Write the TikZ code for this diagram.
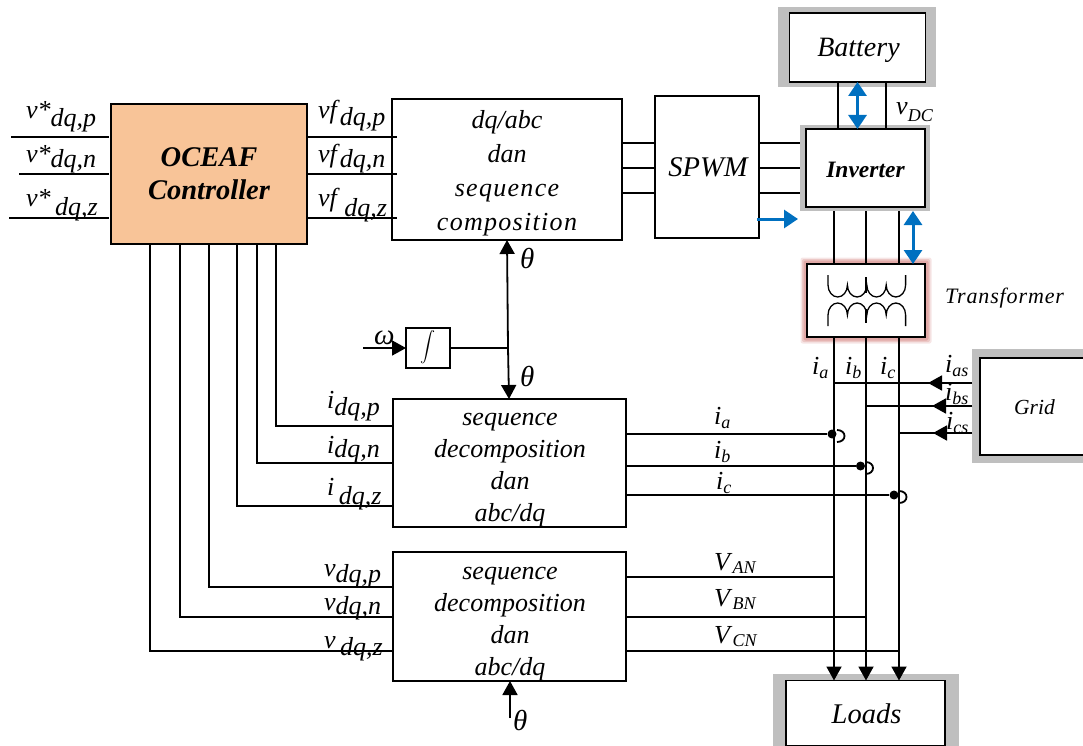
\documentclass[tikz,border=0pt]{standalone}
\usepackage{fontspec}
\setmainfont{Liberation Serif}
\usetikzlibrary{arrows.meta}
\definecolor{ctrlfill}{RGB}{248,196,152}
\definecolor{halo}{RGB}{191,191,191}
\definecolor{blue}{RGB}{0,112,192}
\definecolor{glow}{RGB}{226,170,168}
\newcommand{\subl}[3]{\textit{#1}\raisebox{-#2pt}{\textit{#3}}}
\newcommand{\smalls}[3]{\textit{#1}\raisebox{-#2pt}{\fontsize{18}{20}\selectfont\textit{#3}}}
\tikzset{
    wire/.style={line width=1.8pt},
    blockbox/.style={draw, line width=1.8pt, fill=white, inner sep=0pt, outer sep=0pt},
    blocktext/.style={inner sep=0pt, align=center, font=\fontsize{26}{32}\selectfont\itshape},
    haloshade/.style={fill=halo, inner sep=0pt, outer sep=0pt},
    lab/.style={inner sep=0pt, anchor=base west, font=\fontsize{26}{30}\selectfont},
    greek/.style={lab, font=\fontsize{29}{30}\selectfont},
    blackarrow/.style={wire, -{Triangle[length=14pt,width=15pt]}},
    bluearrow/.style={blue, line width=3pt, {Triangle[length=14pt,width=18pt]}-{Triangle[length=14pt,width=18pt]}},
}
\begin{document}
\begin{tikzpicture}[x=1pt, y=-1pt]
    \useasboundingbox (0,0) rectangle (1083,746);

    % shaded frames
    \node[haloshade, minimum width=158, minimum height=80] (batteryhalo) at (857,47) {};
    \node[haloshade, minimum width=130, minimum height=86] (inverterhalo) at (865,168) {};
    \node[haloshade, minimum width=111, minimum height=114] (gridhalo) at (1027.5,406) {};
    \node[haloshade, minimum width=186, minimum height=72] (loadshalo) at (866,710) {};
    \foreach \g/\o in {30/6.5, 65/5, 100/3.5} {
        \fill[glow!\g!white, rounded corners=2pt] (807-\o,264-\o) rectangle (925+\o,337+\o);
    }

    % blocks
    \node[blockbox, minimum width=136, minimum height=69] (battery) at (857.5,47.5) {};
    \node[blockbox, minimum width=119, minimum height=78] (inverter) at (865.5,168) {};
    \node[blockbox, minimum width=118, minimum height=73] (transformer) at (866,300.5) {};
    \node[blockbox, minimum width=120, minimum height=97] (grid) at (1040,406.5) {};
    \node[blockbox, minimum width=159, minimum height=65] (loads) at (865.5,713) {};
    \node[blockbox, minimum width=196, minimum height=140, fill=ctrlfill] (controller) at (209,174) {};
    \node[blockbox, minimum width=230, minimum height=141] (dqabc) at (507,169.5) {};
    \node[blockbox, minimum width=104, minimum height=142] (spwm) at (707,167) {};
    \node[blockbox, minimum width=233, minimum height=128] (seqi) at (509.5,463) {};
    \node[blockbox, minimum width=233, minimum height=129] (seqv) at (509.5,616.5) {};
    \node[blockbox, minimum width=44, minimum height=40] (integ) at (428,348) {};

    % block texts
    \node[blocktext, font=\fontsize{28}{32}\selectfont\itshape] (batterytext) at (858.5,50) {Battery};
    \node[blocktext, font=\fontsize{23.5}{28}\selectfont\itshape\bfseries] (invertertext) at (865.5,170) {Inverter};
    \node[blocktext, font=\fontsize{21.5}{26}\selectfont\itshape] (gridtext) at (1034.5,407) {Grid};
    \node[blocktext, font=\fontsize{28.5}{32}\selectfont\itshape] (loadstext) at (866.5,714) {Loads};
    \node[blocktext, font=\fontsize{28.5}{33}\selectfont\itshape\bfseries] (controllertext) at (209,174) {OCEAF\\Controller};
    \node[blocktext, font=\fontsize{26}{34}\selectfont\itshape] (dqabctext) at (507,173.5) {dq/abc\\dan\\{\addfontfeature{LetterSpace=5}sequence}\\{\addfontfeature{LetterSpace=5}composition}};
    \node[blocktext, font=\fontsize{28.5}{32}\selectfont\itshape] (spwmtext) at (708,167) {SPWM};
    \node[blocktext] (seqitext) at (510,470) {sequence\\decomposition\\dan\\abc/dq};
    \node[blocktext] (seqvtext) at (510,624) {sequence\\decomposition\\dan\\abc/dq};
    \node[blocktext] (integtext) at (428,347) {\scalebox{1.5}{$\displaystyle\int$}};

    % battery and inverter
    \foreach \x in {838,886} {
        \draw[wire] (battery.south -| \x,0) -- (inverter.north -| \x,0);
    }
    \draw[bluearrow] (battery.south -| 857.5,0) -- (inverter.north -| 857.5,0);
    \foreach \y in {143,168,193} {
        \draw[wire] (dqabc.east |- 0,\y) -- (spwm.west |- 0,\y);
        \draw[wire] (spwm.east |- 0,\y) -- (inverterhalo.west |- 0,\y);
    }
    \coordinate (gatestart) at (757,219);
    \coordinate (gateend) at (798,219);
    \draw[blue, line width=3pt, -{Triangle[length=14pt,width=18pt]}] (gatestart) -- (gateend);

    % inverter to transformer to loads
    \foreach \x in {834,866,899} {
        \draw[wire] (inverterhalo.south -| \x,0) -- (transformer.north -| \x,0);
        \draw[blackarrow] (transformer.south -| \x,0) -- (loads.north -| \x,0);
    }
    \draw[bluearrow] (inverterhalo.south -| 913,0) -- (transformer.north -| 913,0);

    % windings
    \draw[line width=1.3pt] (828,275) -- (828,285) \foreach \i in {1,2,3,4} {arc[start angle=180, end angle=0, x radius=9.7, y radius=12]} -- (905.6,275);
    \draw[line width=1.3pt] (828,326) -- (828,315) \foreach \i in {1,2,3,4} {arc[start angle=180, end angle=360, x radius=9.7, y radius=12]} -- (905.6,326);
    \draw[line width=1.3pt] (866,277) -- (866,293);
    \draw[line width=1.3pt] (866,309) -- (866,323);

    % grid side
    \foreach \y/\x/\t in {383/834/928, 406/866/932, 433/899/933} {
        \coordinate (bus\y) at (\x,\y);
        \coordinate (tip\y) at (\t,\y);
        \draw[wire] (gridhalo.west |- 0,\y) -- (bus\y);
        \draw[blackarrow] (gridhalo.west |- 0,\y) -- (tip\y);
    }

    % controller inputs and outputs
    \foreach \y/\x in {137/11, 174/19, 218/9} {
        \coordinate (ref\y) at (\x,\y);
        \draw[wire] (ref\y) -- ([xshift=-2pt]controller.west |- 0,\y);
        \draw[wire] (controller.east |- 0,\y) -- ([xshift=5pt]dqabc.west |- 0,\y);
    }

    % feedback lines
    \foreach \x/\y in {276/426, 257/463, 237/506} {
        \draw[wire] (controller.south -| \x,0) |- (seqi.west |- 0,\y);
    }
    \foreach \x/\y in {209/587, 180/617, 150/651} {
        \draw[wire] (controller.south -| \x,0) |- (seqv.west |- 0,\y);
    }

    % measured currents and voltages
    \node[circle, fill=black, inner sep=0pt, minimum size=9pt] (hopa) at (832,434) {};
    \node[circle, fill=black, inner sep=0pt, minimum size=9pt] (hopb) at (860.5,466) {};
    \node[circle, fill=black, inner sep=0pt, minimum size=9pt] (hopc) at (894,495) {};
    \foreach \n/\y in {hopa/434, hopb/466, hopc/495} {
        \draw[wire] (seqi.east |- 0,\y) -- (\n);
        \draw[wire] ([shift={(5,-4)}]\n.center) .. controls ([shift={(15,-4)}]\n.center) and ([shift={(15,8)}]\n.center) .. ([shift={(5,8)}]\n.center);
    }
    \foreach \y/\x in {577/834, 617/866, 651/899} {
        \coordinate (load\y) at (\x,\y);
        \draw[wire] (seqv.east |- 0,\y) -- (load\y);
    }

    % theta
    \coordinate (thetajoin) at (508,348);
    \coordinate (omegain) at (363,348);
    \coordinate (thetain) at (510,718);
    \draw[blackarrow] (omegain) -- (integ.west);
    \draw[wire] (integ.east) -- (thetajoin);
    \draw[blackarrow] (thetajoin) -- (dqabc.south -| 507,0);
    \draw[blackarrow] (thetajoin) -- (seqi.north -| 509,0);
    \draw[blackarrow] (thetain) -- (thetain |- seqv.south);

    % labels
    \node[lab] (vrefp) at (26,119) {\subl{v*}{8}{dq,p}};
    \node[lab] (vrefn) at (26,163) {\subl{v*}{5}{dq,n}};
    \node[lab] (vrefz) at (26,206) {\subl{v*}{9}{\,dq,z}};
    \node[lab] (vfp) at (318,119) {\subl{vf}{7}{dq,p}};
    \node[lab] (vfn) at (318,163) {\subl{vf}{5}{dq,n}};
    \node[lab] (vfz) at (318,206) {\subl{vf}{10}{\,dq,z}};
    \node[lab] (idp) at (327,408) {\subl{i}{7}{dq,p}};
    \node[lab] (idn) at (327,453) {\subl{i}{4}{dq,n}};
    \node[lab] (idz) at (327,495) {\subl{i}{9}{\,dq,z}};
    \node[lab] (vdp) at (324,576) {\subl{v}{6}{dq,p}};
    \node[lab] (vdn) at (324,610) {\subl{v}{4}{dq,n}};
    \node[lab] (vdz) at (324,648) {\subl{v}{7}{\,dq,z}};
    \node[greek] (omegalab) at (374,344) {\textit{\char"03C9}};
    \node[greek] (thetaup) at (520,268) {\textit{\char"03B8}};
    \node[greek] (thetadown) at (520,386) {\textit{\char"03B8}};
    \node[greek] (thetabot) at (513,730) {\textit{\char"03B8}};
    \node[lab] (vdc) at (896,115) {\smalls{v}{7}{DC}};
    \node[lab] (ia) at (714,424) {\smalls{i}{4}{a}};
    \node[lab] (ib) at (714,458) {\smalls{i}{4}{b}};
    \node[lab] (ic) at (716,489) {\smalls{i}{4}{c}};
    \node[lab] (van) at (714,570) {\smalls{V}{3}{AN}};
    \node[lab] (vbn) at (714,606) {\smalls{V}{3}{BN}};
    \node[lab] (vcn) at (714,643) {\smalls{V}{3}{CN}};
    \node[lab] (iam) at (812,374) {\smalls{i}{4}{a}};
    \node[lab] (ibm) at (845,374) {\smalls{i}{4}{b}};
    \node[lab] (icm) at (880,374) {\smalls{i}{4}{c}};
    \node[lab] (ias) at (945,372) {\smalls{i}{4}{as}};
    \node[lab] (ibs) at (945,400) {\smalls{i}{4}{bs}};
    \node[lab] (ics) at (946,429) {\smalls{i}{4}{cs}};
    \node[lab, font=\fontsize{22}{26}\selectfont\addfontfeature{LetterSpace=4}] (transformerlab) at (945,303) {\textit{Transformer}};
\end{tikzpicture}
\end{document}
